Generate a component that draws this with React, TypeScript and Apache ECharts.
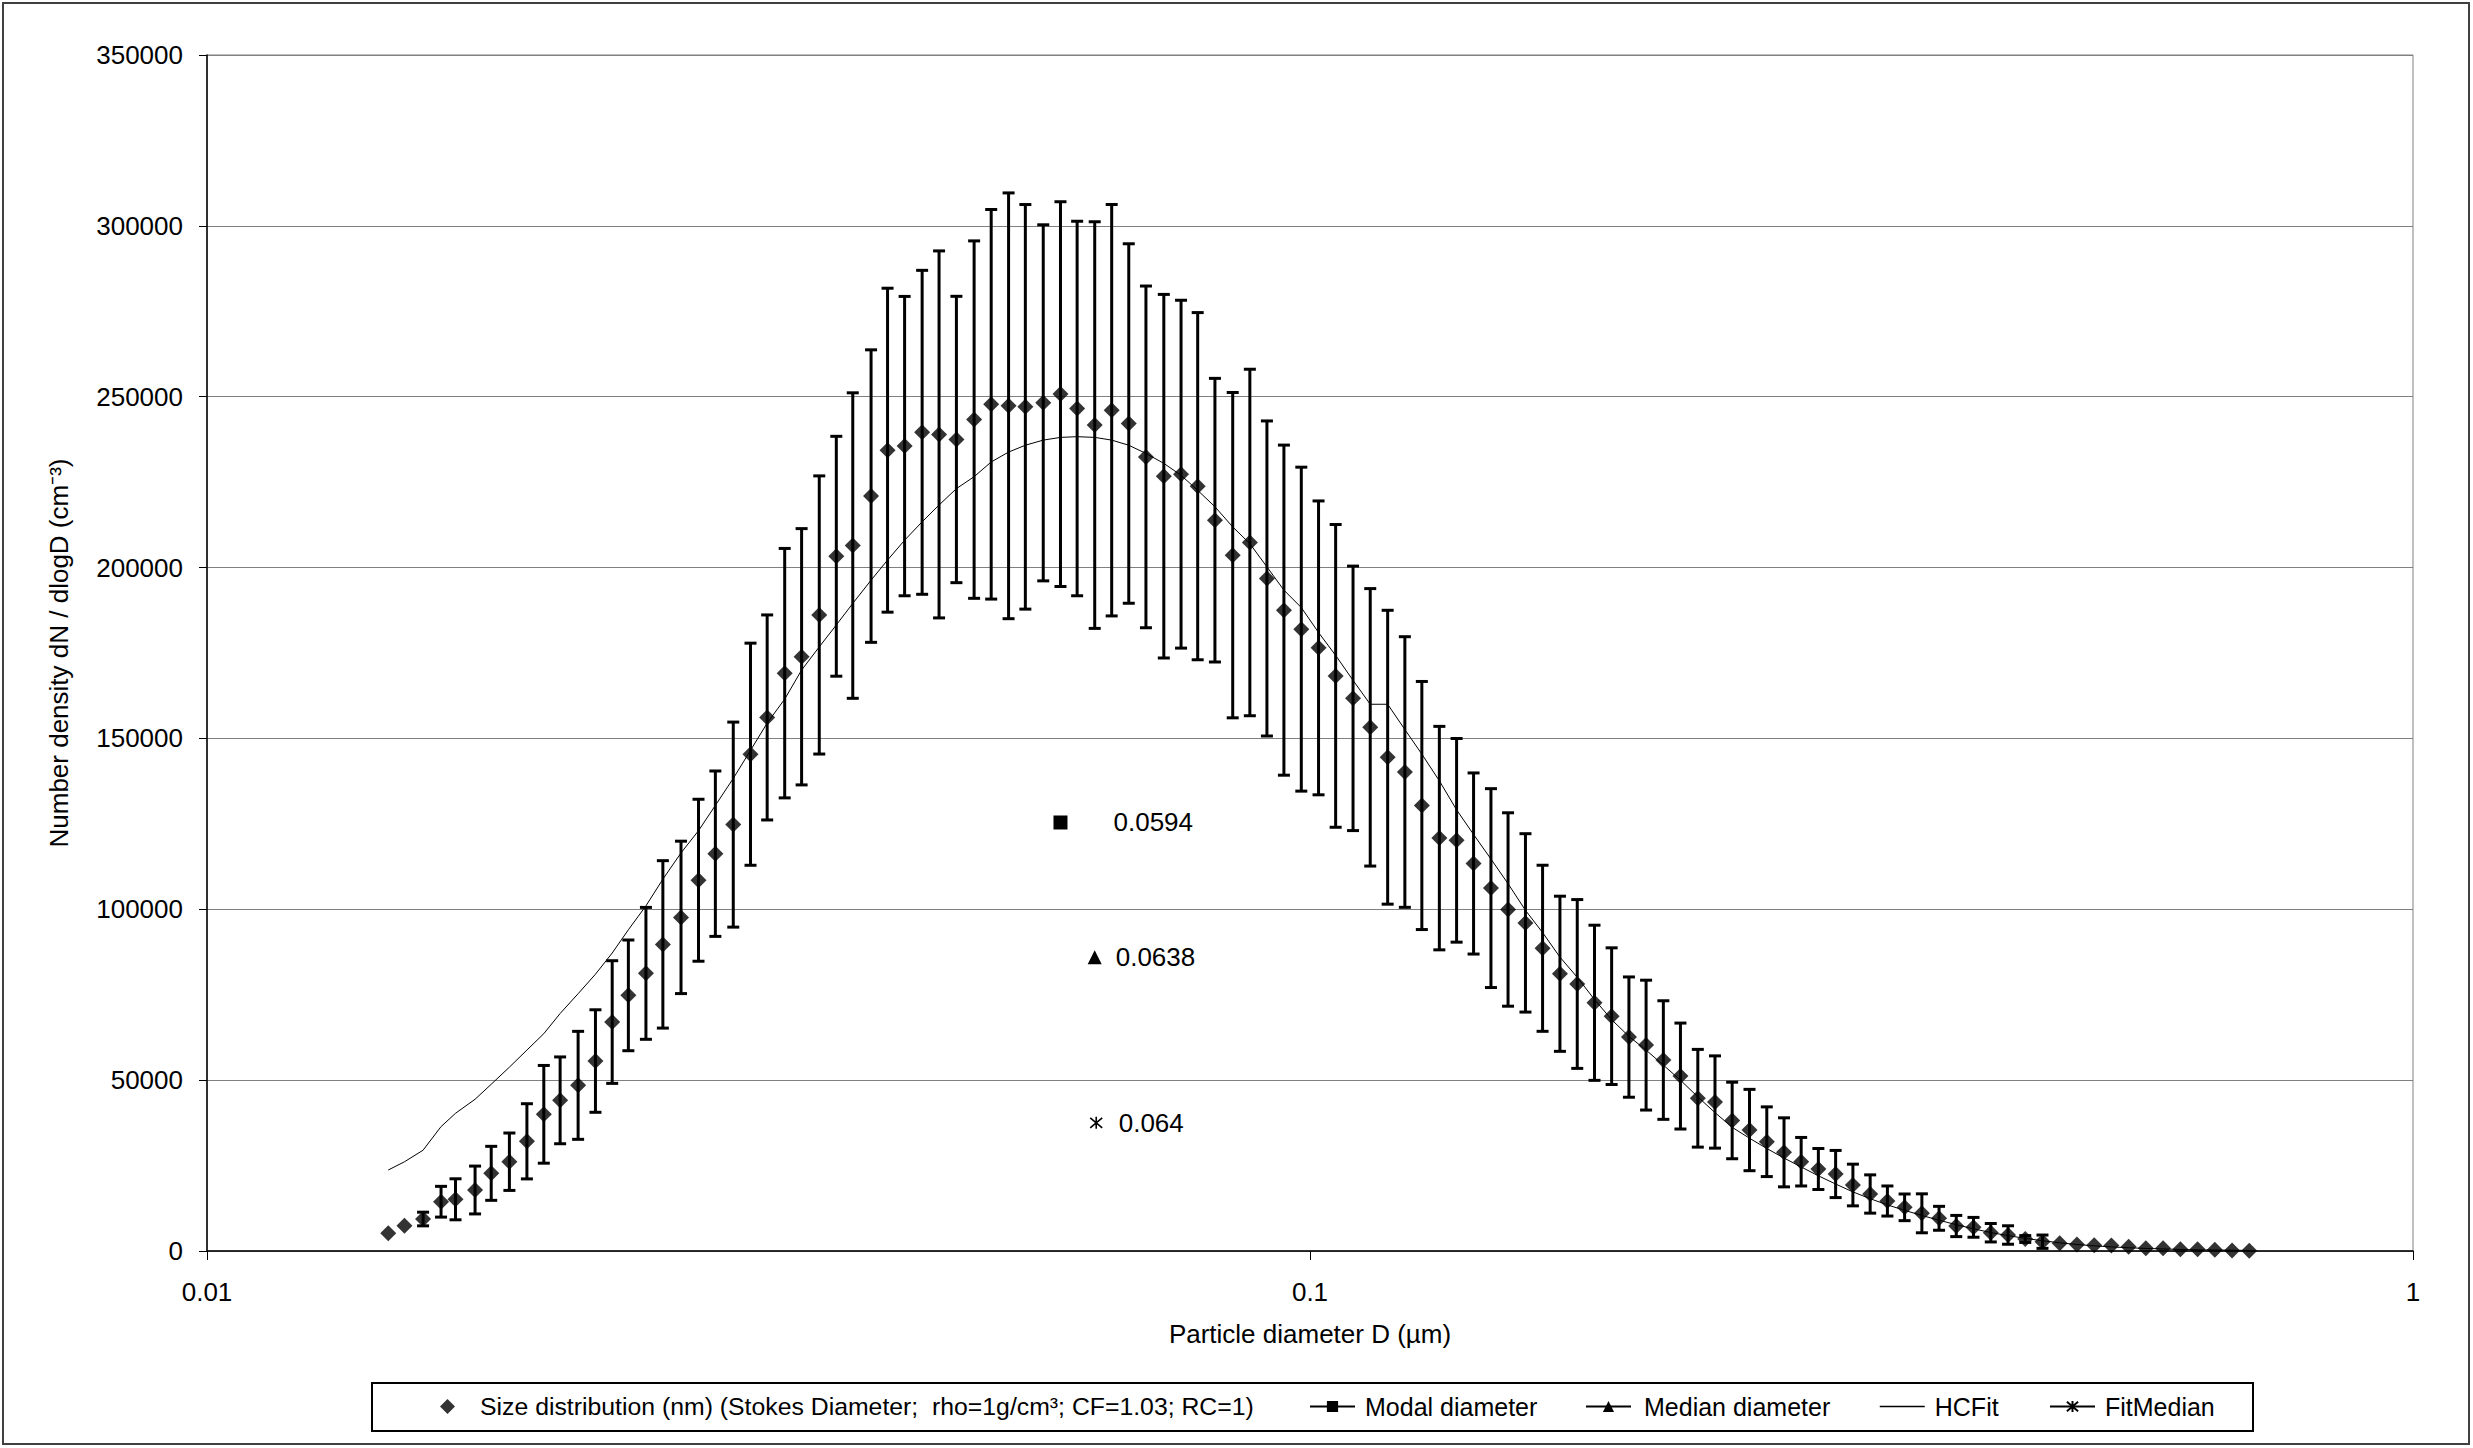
import React, { useEffect, useRef } from "react";
import * as echarts from "echarts";

// Particle diameters (µm), SMPS channel midpoints read from the x positions
const diameters = [
  0.0146, 0.0151, 0.0157, 0.0163, 0.0168, 0.0175, 0.0181, 0.0188, 0.0195, 0.0202,
  0.0209, 0.0217, 0.0225, 0.0233, 0.0241, 0.025, 0.0259, 0.0269, 0.0279, 0.0289,
  0.03, 0.0311, 0.0322, 0.0334, 0.0346, 0.0359, 0.0372, 0.0385, 0.04, 0.0414,
  0.0429, 0.0445, 0.0461, 0.0478, 0.0496, 0.0514, 0.0533, 0.0552, 0.0573, 0.0594,
  0.0615, 0.0638, 0.0661, 0.0685, 0.071, 0.0737, 0.0764, 0.0791, 0.082, 0.0851,
  0.0882, 0.0914, 0.0947, 0.0982, 0.1018, 0.1055, 0.1094, 0.1134, 0.1176, 0.1219,
  0.1263, 0.131, 0.1358, 0.1407, 0.1459, 0.1512, 0.1568, 0.1625, 0.1685, 0.1747,
  0.1811, 0.1877, 0.1946, 0.2017, 0.2091, 0.2167, 0.2247, 0.2329, 0.2414, 0.2503,
  0.2595, 0.269, 0.2788, 0.289, 0.2996, 0.3106, 0.322, 0.3338, 0.346, 0.3587,
  0.3718, 0.3854, 0.3995, 0.4142, 0.4294, 0.4451, 0.4614, 0.4783, 0.4958, 0.514,
  0.5328, 0.5523, 0.5725, 0.5935, 0.6153, 0.6378, 0.6612, 0.6854, 0.7105,
];

// Size distribution dN/dlogD (cm^-3)
const sizeDist = [
  5180, 7400, 9360, 14420, 15130, 17850, 22730, 26130, 32100, 40000,
  44090, 48480, 55590, 67000, 74810, 81250, 89730, 97630, 108500, 116270,
  124780, 145380, 156140, 169100, 173900, 186130, 203310, 206440, 220920, 234350,
  235550, 239580, 238970, 237480, 243300, 247780, 247340, 247040, 248210, 250760,
  246550, 241700, 246050, 242160, 232390, 226740, 227330, 223820, 213870, 203630,
  207340, 196810, 187540, 181980, 176500, 168300, 161730, 153250, 144500, 140170,
  130370, 120830, 120180, 113400, 106200, 99940, 96020, 88590, 81130, 78140,
  72640, 68720, 62600, 60250, 55880, 51200, 44700, 43600, 38200, 35400,
  31980, 28870, 26130, 23990, 22530, 19310, 16680, 14630, 12780, 11030,
  9570, 7310, 6930, 5350, 4680, 3510, 2720, 2250, 1900, 1700,
  1600, 1260, 790, 790, 500, 500, 400, 150, 100,
];

// Error bar half-lengths (±)
const sizeErr = [
  0, 0, 2000, 4500, 6000, 7000, 7900, 8400, 11000, 14300,
  12700, 15800, 15000, 17950, 16200, 19300, 24500, 22300, 23700, 24200,
  30000, 32500, 30000, 36500, 37500, 40700, 35100, 44700, 42800, 47400,
  43800, 47400, 53700, 41900, 52300, 57000, 62300, 59200, 52100, 56300,
  54800, 59500, 60200, 52600, 50000, 53200, 50900, 50800, 41500, 47600,
  50700, 46100, 48300, 47400, 43000, 44300, 38700, 40600, 43000, 39600,
  36300, 32700, 29800, 26500, 29100, 28300, 26100, 24300, 22700, 24700,
  22700, 20000, 17600, 19000, 17350, 15500, 14300, 13500, 11200, 11900,
  10200, 10100, 7100, 6000, 6900, 6100, 5600, 4400, 3900, 5700,
  3500, 3100, 2900, 2700, 2700, 1000, 1950, 0, 0, 0,
  0, 0, 0, 0, 0, 0, 0, 0, 0,
];

// HCFit curve values at the same diameters
const hcFit = [
  23700, 26100, 29500, 36400, 40300, 44400, 48800, 53800, 58800, 63600,
  69500, 75300, 81000, 87200, 94000, 101000, 108800, 116500, 123000, 130400,
  138300, 146500, 154500, 161500, 170000, 176800, 183200, 189500, 196300, 202200,
  208000, 213400, 218300, 223100, 226600, 230900, 233800, 235800, 237300, 238100,
  238300, 238100, 237300, 235800, 233400, 230500, 227000, 222600, 217800, 211900,
  207000, 200200, 193400, 188300, 181000, 174300, 167000, 160000, 160000, 152600,
  145400, 137600, 129100, 121900, 114700, 107500, 99700, 93200, 86000, 80100,
  73600, 67700, 62800, 58800, 54400, 50000, 45100, 40500, 36200, 33000,
  30000, 27200, 24600, 22000, 19600, 17300, 15300, 13500, 11900, 10400,
  9000, 7700, 6500, 5400, 4500, 3700, 3000, 2400, 1900, 1500,
  1200, 950, 750, 600, 450, 350, 280, 220, 170,
];

const modalDiameter = [0.0594, 125400];
const medianDiameter = [0.0638, 86000];
const fitMedian = [0.064, 37500];

const yTicks = [0, 50000, 100000, 150000, 200000, 250000, 300000, 350000];

const seriesNames = [
  "Size distribution (nm) (Stokes Diameter;  rho=1g/cm³; CF=1.03; RC=1)",
  "Modal diameter",
  "Median diameter",
  "HCFit",
  "FitMedian",
];

const FONT = "'Liberation Sans', Arial, sans-serif";
const ASTERISK = "path://M0,0L10,10M10,0L0,10M5,-1L5,11";

export default function App() {
  const ref = useRef<HTMLDivElement>(null);

  useEffect(() => {
    if (!ref.current) return;
    const chart = echarts.init(ref.current, undefined, { renderer: "svg" });

    const scatterData = diameters.map((d, i) => [d, sizeDist[i]]);
    const errData = diameters.map((d, i) => [d, sizeDist[i], sizeErr[i]]);
    const fitData = diameters.map((d, i) => [d, hcFit[i]]);

    const labelStyle = {
      show: true,
      position: "right",
      fontSize: 26,
      fontFamily: FONT,
      color: "#000",
      formatter: (p: any) => String(p.value[0]),
    };

    const legendCommon = {
      top: 1394,
      padding: 0,
      itemHeight: 14,
      itemWidth: 45,
      textStyle: { fontSize: 25, fontFamily: FONT, color: "#000", padding: [0, 0, 0, 5] },
      selectedMode: false,
    };

    chart.setOption({
      animation: false,
      backgroundColor: "#fff",
      textStyle: { fontFamily: FONT },
      grid: {
        left: 207,
        right: 60,
        top: 55,
        bottom: 197,
        show: true,
        borderColor: "#808080",
        borderWidth: 1,
        containLabel: false,
      },
      xAxis: {
        type: "log",
        logBase: 10,
        min: 0.01,
        max: 1,
        name: "Particle diameter D (µm)",
        nameLocation: "middle",
        nameGap: 70,
        nameTextStyle: { fontSize: 26, fontFamily: FONT, color: "#000" },
        axisLine: { show: true, onZero: false, lineStyle: { color: "#000", width: 1.5 } },
        axisTick: { show: true, length: 9, lineStyle: { color: "#000" } },
        minorTick: { show: false },
        splitLine: { show: false },
        axisLabel: {
          fontSize: 26,
          fontFamily: FONT,
          color: "#000",
          margin: 28,
          formatter: (v: number) => String(+Number(v).toPrecision(6)),
        },
      },
      yAxis: {
        type: "value",
        min: yTicks[0],
        max: yTicks[yTicks.length - 1],
        interval: yTicks[1] - yTicks[0],
        name: "Number density dN / dlogD (cm⁻³)",
        nameLocation: "middle",
        nameRotate: 90,
        nameGap: 135,
        nameTextStyle: { fontSize: 26, fontFamily: FONT, color: "#000" },
        axisLine: { show: true, lineStyle: { color: "#000", width: 1.5 } },
        axisTick: { show: true, length: 8, lineStyle: { color: "#000" } },
        splitLine: { show: true, lineStyle: { color: "#808080", width: 1 } },
        axisLabel: {
          fontSize: 26,
          fontFamily: FONT,
          color: "#000",
          margin: 24,
          formatter: (v: number) => String(v),
        },
      },
      legend: [
        {
          ...legendCommon,
          left: 440,
          data: [seriesNames[0]],
          itemWidth: 15,
          itemHeight: 15,
          textStyle: { ...legendCommon.textStyle, fontSize: 24.8, padding: [0, 0, 0, 20] },
        },
        { ...legendCommon, left: 1309, data: [seriesNames[1]] },
        { ...legendCommon, left: 1585, data: [seriesNames[2]], textStyle: { ...legendCommon.textStyle, padding: [0, 0, 0, 8] } },
        {
          ...legendCommon,
          left: 1879,
          data: [seriesNames[3]],
          itemStyle: { color: "transparent", borderColor: "transparent", borderWidth: 0, opacity: 0 },
          lineStyle: { color: "#000", width: 1.5, opacity: 1 },
        },
        { ...legendCommon, left: 2049, data: [seriesNames[4]] },
      ],
      graphic: [
        {
          type: "rect",
          shape: { x: 3, y: 3, width: 2466, height: 1441 },
          style: { fill: "none", stroke: "#404040", lineWidth: 2 },
          silent: true,
        },
        {
          type: "rect",
          shape: { x: 372, y: 1383, width: 1881, height: 48 },
          style: { fill: "none", stroke: "#000", lineWidth: 2 },
          silent: true,
        },
      ],
      series: [
        {
          type: "custom",
          silent: true,
          z: 2,
          data: errData,
          encode: { x: 0, y: 1 },
          renderItem: (params: any, api: any) => {
            const e = api.value(2);
            if (!e) return { type: "group", children: [] };
            const x = api.value(0);
            const y = api.value(1);
            const top = api.coord([x, y + e]);
            const bot = api.coord([x, y - e]);
            const hw = 6;
            const style = { stroke: "#000", lineWidth: 3 };
            return {
              type: "group",
              children: [
                { type: "line", shape: { x1: top[0], y1: top[1], x2: bot[0], y2: bot[1] }, style },
                { type: "line", shape: { x1: top[0] - hw, y1: top[1], x2: top[0] + hw, y2: top[1] }, style },
                { type: "line", shape: { x1: bot[0] - hw, y1: bot[1], x2: bot[0] + hw, y2: bot[1] }, style },
              ],
            };
          },
        },
        {
          name: seriesNames[0],
          type: "scatter",
          z: 3,
          symbol: "diamond",
          symbolSize: 16,
          itemStyle: { color: "#000" },
          data: scatterData,
        },
        {
          name: seriesNames[1],
          type: "line",
          z: 4,
          symbol: "rect",
          symbolSize: 14,
          itemStyle: { color: "#000" },
          lineStyle: { color: "#000", width: 1.5 },
          data: [modalDiameter],
          label: { ...labelStyle, distance: 46 },
        },
        {
          name: seriesNames[2],
          type: "line",
          z: 4,
          symbol: "triangle",
          symbolSize: 14,
          itemStyle: { color: "#000" },
          lineStyle: { color: "#000", width: 1.5 },
          data: [medianDiameter],
          label: { ...labelStyle, distance: 14 },
        },
        {
          name: seriesNames[3],
          type: "line",
          z: 4,
          symbol: "none",
          showSymbol: false,
          lineStyle: { color: "#000", width: 1 },
          itemStyle: { color: "#000" },
          data: fitData,
        },
        {
          name: seriesNames[4],
          type: "line",
          z: 4,
          symbol: ASTERISK,
          symbolSize: 12,
          itemStyle: { color: "none", borderColor: "#000", borderWidth: 1.6 },
          lineStyle: { color: "#000", width: 1.5 },
          data: [fitMedian],
          label: { ...labelStyle, distance: 14 },
        },
      ],
    });

    return () => chart.dispose();
  }, []);

  return (
    <div
      ref={ref}
      style={{ position: "fixed", left: 0, top: 0, width: 2473, height: 1448, background: "#fff" }}
    />
  );
}
